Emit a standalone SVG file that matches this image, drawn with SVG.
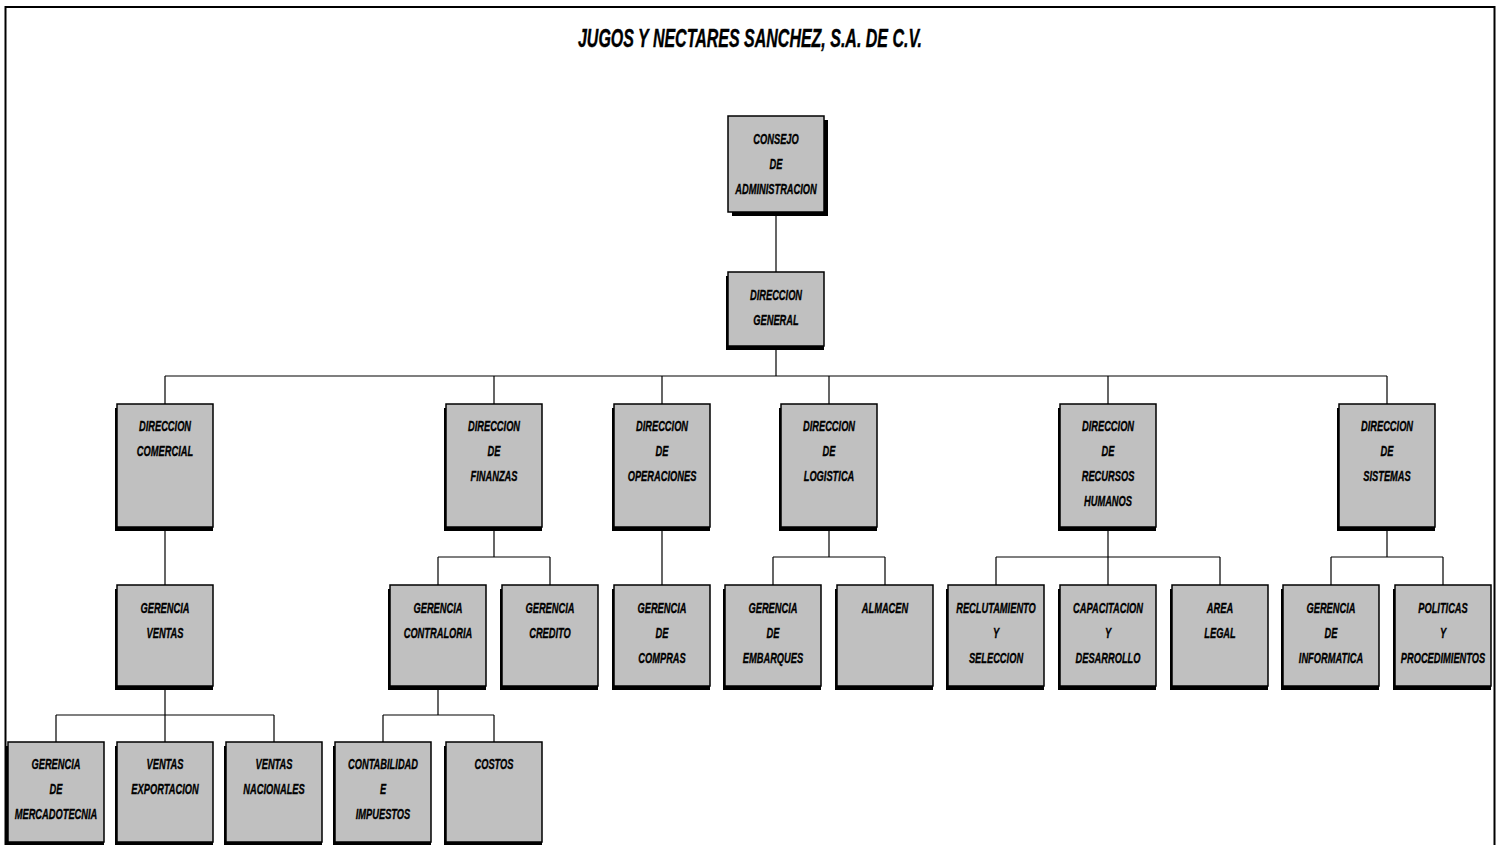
<svg xmlns="http://www.w3.org/2000/svg" width="1502" height="845" viewBox="0 0 1502 845">
<style>
.frame{fill:none;stroke:#000;stroke-width:2}
.sh{fill:#000}
.bx{fill:#c0c0c0;stroke:#000;stroke-width:1.5}
.t{font-family:"Liberation Sans",Arial,sans-serif;font-weight:bold;font-style:italic;font-size:15px;text-anchor:middle;fill:#000;stroke:#000;stroke-width:0.35}
.title{font-family:"Liberation Sans",Arial,sans-serif;font-weight:bold;font-style:italic;font-size:25px;text-anchor:middle;fill:#000;stroke:#000;stroke-width:0.4}
.c{fill:none;stroke:#000;stroke-width:1.2}
</style>
<rect x="0" y="0" width="1502" height="845" fill="#fff"/>
<rect class="frame" x="5.5" y="7" width="1489" height="845"/>
<text class="title" transform="translate(750,47) scale(0.64,1)">JUGOS Y NECTARES SANCHEZ, S.A. DE C.V.</text>
<g id="connectors">
<path class="c" d="M776,212V272M776,346V376M165,376H1387M165,376V404M494,376V404M662,376V404M829,376V404M1108,376V404M1387,376V404"/>
<path class="c" d="M165,527V585M494,527V557M438,557H550M438,557V585M550,557V585M662,527V585M829,527V557M773,557H885M773,557V585M885,557V585M1108,527V557M996,557H1220M996,557V585M1108,557V585M1220,557V585M1387,527V557M1331,557H1443M1331,557V585M1443,557V585"/>
<path class="c" d="M165,686V715M56,715H274M56,715V742M165,715V742M274,715V742M438,686V715M383,715H494M383,715V742M494,715V742"/>
</g>
<g id="consejo"><rect class="sh" x="732" y="120" width="96" height="96"/><rect class="bx" x="728" y="116" width="96" height="96"/><text class="t" transform="translate(776,144) scale(0.62,1)">CONSEJO</text><text class="t" transform="translate(776,169) scale(0.62,1)">DE</text><text class="t" transform="translate(776,194) scale(0.62,1)">ADMINISTRACION</text></g>
<g id="dg"><rect class="sh" x="726" y="276" width="98" height="74"/><rect class="bx" x="728" y="272" width="96" height="74"/><text class="t" transform="translate(776,300) scale(0.62,1)">DIRECCION</text><text class="t" transform="translate(776,325) scale(0.62,1)">GENERAL</text></g>
<g id="d-comercial"><rect class="sh" x="115" y="408" width="98" height="123"/><rect class="bx" x="117" y="404" width="96" height="123"/><text class="t" transform="translate(165,431) scale(0.62,1)">DIRECCION</text><text class="t" transform="translate(165,456) scale(0.62,1)">COMERCIAL</text></g>
<g id="d-finanzas"><rect class="sh" x="444" y="408" width="98" height="123"/><rect class="bx" x="446" y="404" width="96" height="123"/><text class="t" transform="translate(494,431) scale(0.62,1)">DIRECCION</text><text class="t" transform="translate(494,456) scale(0.62,1)">DE</text><text class="t" transform="translate(494,481) scale(0.62,1)">FINANZAS</text></g>
<g id="d-operaciones"><rect class="sh" x="612" y="408" width="98" height="123"/><rect class="bx" x="614" y="404" width="96" height="123"/><text class="t" transform="translate(662,431) scale(0.62,1)">DIRECCION</text><text class="t" transform="translate(662,456) scale(0.62,1)">DE</text><text class="t" transform="translate(662,481) scale(0.62,1)">OPERACIONES</text></g>
<g id="d-logistica"><rect class="sh" x="779" y="408" width="98" height="123"/><rect class="bx" x="781" y="404" width="96" height="123"/><text class="t" transform="translate(829,431) scale(0.62,1)">DIRECCION</text><text class="t" transform="translate(829,456) scale(0.62,1)">DE</text><text class="t" transform="translate(829,481) scale(0.62,1)">LOGISTICA</text></g>
<g id="d-rrhh"><rect class="sh" x="1058" y="408" width="98" height="123"/><rect class="bx" x="1060" y="404" width="96" height="123"/><text class="t" transform="translate(1108,431) scale(0.62,1)">DIRECCION</text><text class="t" transform="translate(1108,456) scale(0.62,1)">DE</text><text class="t" transform="translate(1108,481) scale(0.62,1)">RECURSOS</text><text class="t" transform="translate(1108,506) scale(0.62,1)">HUMANOS</text></g>
<g id="d-sistemas"><rect class="sh" x="1337" y="408" width="98" height="123"/><rect class="bx" x="1339" y="404" width="96" height="123"/><text class="t" transform="translate(1387,431) scale(0.62,1)">DIRECCION</text><text class="t" transform="translate(1387,456) scale(0.62,1)">DE</text><text class="t" transform="translate(1387,481) scale(0.62,1)">SISTEMAS</text></g>
<g id="g-ventas"><rect class="sh" x="115" y="589" width="98" height="101"/><rect class="bx" x="117" y="585" width="96" height="101"/><text class="t" transform="translate(165,613) scale(0.62,1)">GERENCIA</text><text class="t" transform="translate(165,638) scale(0.62,1)">VENTAS</text></g>
<g id="g-contraloria"><rect class="sh" x="388" y="589" width="98" height="101"/><rect class="bx" x="390" y="585" width="96" height="101"/><text class="t" transform="translate(438,613) scale(0.62,1)">GERENCIA</text><text class="t" transform="translate(438,638) scale(0.62,1)">CONTRALORIA</text></g>
<g id="g-credito"><rect class="sh" x="500" y="589" width="98" height="101"/><rect class="bx" x="502" y="585" width="96" height="101"/><text class="t" transform="translate(550,613) scale(0.62,1)">GERENCIA</text><text class="t" transform="translate(550,638) scale(0.62,1)">CREDITO</text></g>
<g id="g-compras"><rect class="sh" x="612" y="589" width="98" height="101"/><rect class="bx" x="614" y="585" width="96" height="101"/><text class="t" transform="translate(662,613) scale(0.62,1)">GERENCIA</text><text class="t" transform="translate(662,638) scale(0.62,1)">DE</text><text class="t" transform="translate(662,663) scale(0.62,1)">COMPRAS</text></g>
<g id="g-embarques"><rect class="sh" x="723" y="589" width="98" height="101"/><rect class="bx" x="725" y="585" width="96" height="101"/><text class="t" transform="translate(773,613) scale(0.62,1)">GERENCIA</text><text class="t" transform="translate(773,638) scale(0.62,1)">DE</text><text class="t" transform="translate(773,663) scale(0.62,1)">EMBARQUES</text></g>
<g id="almacen"><rect class="sh" x="835" y="589" width="98" height="101"/><rect class="bx" x="837" y="585" width="96" height="101"/><text class="t" transform="translate(885,613) scale(0.62,1)">ALMACEN</text></g>
<g id="reclutamiento"><rect class="sh" x="946" y="589" width="98" height="101"/><rect class="bx" x="948" y="585" width="96" height="101"/><text class="t" transform="translate(996,613) scale(0.62,1)">RECLUTAMIENTO</text><text class="t" transform="translate(996,638) scale(0.62,1)">Y</text><text class="t" transform="translate(996,663) scale(0.62,1)">SELECCION</text></g>
<g id="capacitacion"><rect class="sh" x="1058" y="589" width="98" height="101"/><rect class="bx" x="1060" y="585" width="96" height="101"/><text class="t" transform="translate(1108,613) scale(0.62,1)">CAPACITACION</text><text class="t" transform="translate(1108,638) scale(0.62,1)">Y</text><text class="t" transform="translate(1108,663) scale(0.62,1)">DESARROLLO</text></g>
<g id="area-legal"><rect class="sh" x="1170" y="589" width="98" height="101"/><rect class="bx" x="1172" y="585" width="96" height="101"/><text class="t" transform="translate(1220,613) scale(0.62,1)">AREA</text><text class="t" transform="translate(1220,638) scale(0.62,1)">LEGAL</text></g>
<g id="g-informatica"><rect class="sh" x="1281" y="589" width="98" height="101"/><rect class="bx" x="1283" y="585" width="96" height="101"/><text class="t" transform="translate(1331,613) scale(0.62,1)">GERENCIA</text><text class="t" transform="translate(1331,638) scale(0.62,1)">DE</text><text class="t" transform="translate(1331,663) scale(0.62,1)">INFORMATICA</text></g>
<g id="politicas"><rect class="sh" x="1393" y="589" width="98" height="101"/><rect class="bx" x="1395" y="585" width="96" height="101"/><text class="t" transform="translate(1443,613) scale(0.62,1)">POLITICAS</text><text class="t" transform="translate(1443,638) scale(0.62,1)">Y</text><text class="t" transform="translate(1443,663) scale(0.62,1)">PROCEDIMIENTOS</text></g>
<g id="g-mercadotecnia"><rect class="sh" x="6" y="746" width="98" height="100"/><rect class="bx" x="8" y="742" width="96" height="100"/><text class="t" transform="translate(56,769) scale(0.62,1)">GERENCIA</text><text class="t" transform="translate(56,794) scale(0.62,1)">DE</text><text class="t" transform="translate(56,819) scale(0.62,1)">MERCADOTECNIA</text></g>
<g id="v-exportacion"><rect class="sh" x="115" y="746" width="98" height="100"/><rect class="bx" x="117" y="742" width="96" height="100"/><text class="t" transform="translate(165,769) scale(0.62,1)">VENTAS</text><text class="t" transform="translate(165,794) scale(0.62,1)">EXPORTACION</text></g>
<g id="v-nacionales"><rect class="sh" x="224" y="746" width="98" height="100"/><rect class="bx" x="226" y="742" width="96" height="100"/><text class="t" transform="translate(274,769) scale(0.62,1)">VENTAS</text><text class="t" transform="translate(274,794) scale(0.62,1)">NACIONALES</text></g>
<g id="contabilidad"><rect class="sh" x="333" y="746" width="98" height="100"/><rect class="bx" x="335" y="742" width="96" height="100"/><text class="t" transform="translate(383,769) scale(0.62,1)">CONTABILIDAD</text><text class="t" transform="translate(383,794) scale(0.62,1)">E</text><text class="t" transform="translate(383,819) scale(0.62,1)">IMPUESTOS</text></g>
<g id="costos"><rect class="sh" x="444" y="746" width="98" height="100"/><rect class="bx" x="446" y="742" width="96" height="100"/><text class="t" transform="translate(494,769) scale(0.62,1)">COSTOS</text></g>
</svg>
